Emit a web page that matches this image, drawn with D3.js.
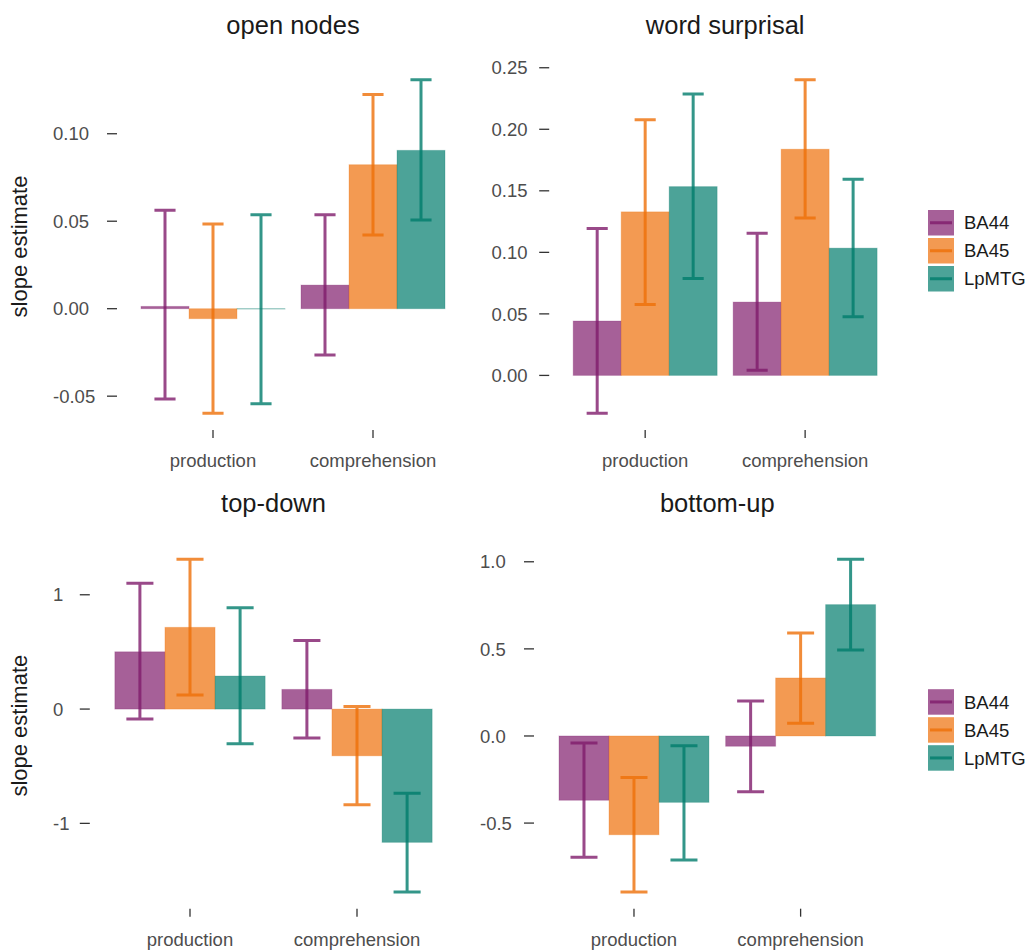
<!DOCTYPE html>
<html>
<head>
<meta charset="utf-8">
<script src="https://cdn.jsdelivr.net/npm/d3@7"></script>
<style>
  html, body { margin: 0; padding: 0; background: #ffffff; }
  svg { display: block; font-family: "Liberation Sans", Arial, sans-serif; }
</style>
</head>
<body>
<svg id="chart" width="1030" height="950"></svg>
<script>
// ---------------- data ----------------
const categories = ["production", "comprehension"];
const regions = ["BA44", "BA45", "LpMTG"];
const panelTitles = ["open nodes", "word surprisal", "top-down", "bottom-up"];

// estimates [category][region]
const openNodesEst   = [[0.0013, -0.0057, -0.0002], [0.0135, 0.0823, 0.0905]];
const openNodesLow   = [[-0.0516, -0.0598, -0.0543], [-0.0265, 0.0421, 0.0507]];
const openNodesHigh  = [[0.0562, 0.0484, 0.0537], [0.0537, 0.1225, 0.1309]];

const surprisalEst   = [[0.0442, 0.1329, 0.1534], [0.0596, 0.1838, 0.1034]];
const surprisalLow   = [[-0.0308, 0.0576, 0.0787], [0.0041, 0.1280, 0.0476]];
const surprisalHigh  = [[0.1193, 0.2078, 0.2287], [0.1156, 0.2403, 0.1594]];

const topDownEst     = [[0.501, 0.715, 0.289], [0.172, -0.409, -1.166]];
const topDownLow     = [[-0.0875, 0.1225, -0.304], [-0.254, -0.837, -1.601]];
const topDownHigh    = [[1.100, 1.310, 0.886], [0.601, 0.0233, -0.7375]];

const bottomUpEst    = [[-0.369, -0.567, -0.381], [-0.059, 0.333, 0.754]];
const bottomUpLow    = [[-0.696, -0.896, -0.712], [-0.320, 0.0727, 0.494]];
const bottomUpHigh   = [[-0.040, -0.239, -0.0555], [0.201, 0.591, 1.014]];

const openNodesTicks = [-0.05, 0, 0.05, 0.10];
const surprisalTicks = [0, 0.05, 0.10, 0.15, 0.20, 0.25];
const topDownTicks   = [-1, 0, 1];
const bottomUpTicks  = [-0.5, 0, 0.5, 1.0];
const hyphenMinus = f => (v => f(v).replace("\u2212", "-"));
const tickFormats = [hyphenMinus(d3.format(".2f")), hyphenMinus(d3.format(".2f")),
                     hyphenMinus(d3.format("d")), hyphenMinus(d3.format(".1f"))];

const yLabel = "slope estimate";

// ---------------- styling / layout ----------------
const colors = ["#801c6c", "#ee6f08", "#007c6c"];
const FONT = "'Liberation Sans', Arial, sans-serif";

const layout = [
  { x: [117, 469],     y: [63, 430],      labelX: 53,    legend: false, axisTitle: true,  titleY: 34,  catY: 467, cap: 0.44 },
  { x: [549.2, 901.1], y: [63, 430],      labelX: 491.5, legend: true,  axisTitle: false, titleY: 34,  catY: 467, cap: 0.44 },
  { x: [89.8, 457.2],  y: [542.7, 908.7], labelX: 53,    legend: false, axisTitle: true,  titleY: 512, catY: 946, cap: 0.54 },
  { x: [534, 900.6],   y: [542.7, 908.7], labelX: 480,   legend: true,  axisTitle: false, titleY: 512, catY: 946, cap: 0.54 }
];

const panelData = [
  { est: openNodesEst, low: openNodesLow, high: openNodesHigh, ticks: openNodesTicks },
  { est: surprisalEst, low: surprisalLow, high: surprisalHigh, ticks: surprisalTicks },
  { est: topDownEst,   low: topDownLow,   high: topDownHigh,   ticks: topDownTicks },
  { est: bottomUpEst,  low: bottomUpLow,  high: bottomUpHigh,  ticks: bottomUpTicks }
];

const svg = d3.select("#chart");

panelData.forEach((pd, pi) => {
  const L = layout[pi];
  const g = svg.append("g");

  // y domain like ggplot: data range (incl. 0 for bars) expanded by 5%
  const all = [0].concat(pd.est.flat(), pd.low.flat(), pd.high.flat());
  const lo = d3.min(all), hi = d3.max(all);
  const pad = (hi - lo) * 0.05;
  const y = d3.scaleLinear().domain([lo - pad, hi + pad]).range([L.y[1], L.y[0]]);

  const x = d3.scalePoint().domain(categories).range(L.x).padding(0.6);
  const step = x.step();
  const xr = d3.scaleBand().domain(regions).range([-0.45 * step, 0.45 * step]).padding(0);
  const bw = xr.bandwidth();

  // bars
  const rows = [];
  categories.forEach((c, ci) => regions.forEach((r, ri) => {
    rows.push({ c, r, ri, v: pd.est[ci][ri], lo: pd.low[ci][ri], hi: pd.high[ci][ri] });
  }));

  g.selectAll("rect.bar").data(rows).join("rect")
    .attr("class", "bar")
    .attr("x", d => x(d.c) + xr(d.r))
    .attr("width", bw)
    .attr("y", d => Math.min(y(d.v), y(0)))
    .attr("height", d => Math.abs(y(d.v) - y(0)))
    .attr("fill", d => colors[d.ri])
    .attr("fill-opacity", 0.7)
    .attr("stroke", d => colors[d.ri])
    .attr("stroke-opacity", 0.25)
    .attr("stroke-width", 1);

  // error bars
  const cw = bw * L.cap;
  g.selectAll("path.err").data(rows).join("path")
    .attr("class", "err")
    .attr("d", d => {
      const cx = x(d.c) + xr(d.r) + bw / 2;
      const yt = y(d.hi), yb = y(d.lo);
      return `M${cx - cw / 2},${yt}H${cx + cw / 2}M${cx},${yt}V${yb}M${cx - cw / 2},${yb}H${cx + cw / 2}`;
    })
    .attr("fill", "none")
    .attr("stroke", d => colors[d.ri])
    .attr("stroke-opacity", 0.8)
    .attr("stroke-width", 3);

  // y axis ticks
  const yAxis = g.append("g");
  yAxis.selectAll("line").data(pd.ticks).join("line")
    .attr("x1", L.x[0] - 10).attr("x2", L.x[0])
    .attr("y1", d => y(d)).attr("y2", d => y(d))
    .attr("stroke", "#333333").attr("stroke-width", 1.3);
  yAxis.selectAll("text").data(pd.ticks).join("text")
    .attr("x", L.labelX)
    .attr("y", d => y(d))
    .attr("dy", "0.36em")
    .attr("text-anchor", "start")
    .attr("fill", "#4d4d4d")
    .style("font-family", FONT)
    .style("font-size", "18.5px")
    .text(d => tickFormats[pi](d));

  // x axis ticks
  const xAxis = g.append("g");
  xAxis.selectAll("line").data(categories).join("line")
    .attr("x1", d => x(d)).attr("x2", d => x(d))
    .attr("y1", L.y[1]).attr("y2", L.y[1] + 8)
    .attr("stroke", "#333333").attr("stroke-width", 1.3);
  xAxis.selectAll("text").data(categories).join("text")
    .attr("x", d => x(d))
    .attr("y", L.catY)
    .attr("text-anchor", "middle")
    .attr("fill", "#4d4d4d")
    .style("font-family", FONT)
    .style("font-size", "18.5px")
    .text(d => d);

  // title
  g.append("text")
    .attr("x", (L.x[0] + L.x[1]) / 2)
    .attr("y", L.titleY)
    .attr("text-anchor", "middle")
    .attr("fill", "#1a1a1a")
    .style("font-family", FONT)
    .style("font-size", "25.5px")
    .text(panelTitles[pi]);

  // y axis title
  if (L.axisTitle) {
    const cy = (L.y[0] + L.y[1]) / 2;
    g.append("text")
      .attr("transform", `translate(27,${cy}) rotate(-90)`)
      .attr("text-anchor", "middle")
      .attr("fill", "#1a1a1a")
      .style("font-family", FONT)
      .style("font-size", "22px")
      .text(yLabel);
  }

  // legend
  if (L.legend) {
    const top = (L.y[0] + L.y[1]) / 2 - 36.5;
    const lg = g.append("g").attr("transform", `translate(928,${top})`);
    regions.forEach((r, ri) => {
      const ky = ri * 28;
      lg.append("rect")
        .attr("x", 0).attr("y", ky).attr("width", 26).attr("height", 25.5)
        .attr("fill", colors[ri]).attr("fill-opacity", 0.7);
      lg.append("line")
        .attr("x1", 2).attr("x2", 24)
        .attr("y1", ky + 12.75).attr("y2", ky + 12.75)
        .attr("stroke", colors[ri]).attr("stroke-opacity", 0.8).attr("stroke-width", 3);
      lg.append("text")
        .attr("x", 36).attr("y", ky + 12.75).attr("dy", "0.36em")
        .attr("fill", "#1a1a1a")
        .style("font-family", FONT)
        .style("font-size", "18.5px")
        .text(r);
    });
  }
});
</script>
</body>
</html>
